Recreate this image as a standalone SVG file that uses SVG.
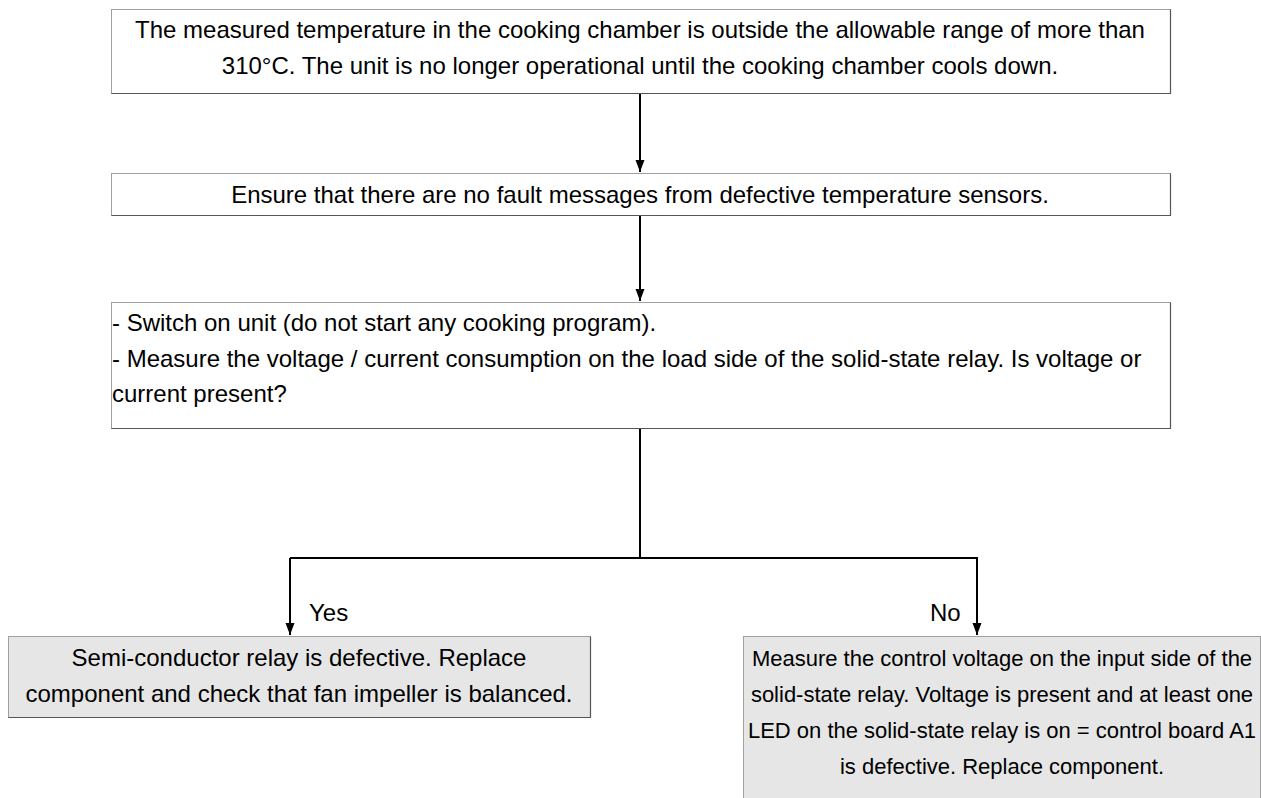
<svg xmlns="http://www.w3.org/2000/svg" width="1261" height="798" viewBox="0 0 1261 798">
<defs>
<style>
.box{fill:#ffffff;stroke:#a0a0a0;stroke-width:1}
.gbox{fill:#e6e6e6;stroke:#a0a0a0;stroke-width:1}
.sh{stroke:#555555;stroke-width:1.2;fill:none}
.t{font-family:"Liberation Sans",Arial,sans-serif;font-size:24px;fill:#000}
.s{font-size:22px}
.c{text-anchor:middle}
.ln{stroke:#000;stroke-width:2;fill:none}
</style>
<marker id="arr" markerWidth="12" markerHeight="16" refX="16" refY="6" orient="auto" markerUnits="userSpaceOnUse" viewBox="0 0 16 12">
<path d="M0,0 L16,6 L0,12 Z" fill="#000"/>
</marker>
</defs>
<g id="connectors">
<line class="ln" x1="640" y1="93" x2="640" y2="172" marker-end="url(#arr)"/>
<line class="ln" x1="640" y1="215" x2="640" y2="301" marker-end="url(#arr)"/>
<polyline class="ln" points="640,428 640,558"/>
<polyline class="ln" points="290,558 977,558 977,635" marker-end="url(#arr)"/>
<line class="ln" x1="290" y1="558" x2="290" y2="635" marker-end="url(#arr)"/>
</g>
<g id="node1">
<rect class="box" x="111.5" y="9.5" width="1059" height="84"/>
<polyline class="sh" points="111.5,93.5 1170.5,93.5 1170.5,9.5"/>
<text class="t c" x="640" y="38">The measured temperature in the cooking chamber is outside the allowable range of more than</text>
<text class="t c" x="640" y="74">310°C. The unit is no longer operational until the cooking chamber cools down.</text>
</g>
<g id="node2">
<rect class="box" x="111.5" y="173.5" width="1059" height="42"/>
<polyline class="sh" points="111.5,215.5 1170.5,215.5 1170.5,173.5"/>
<text class="t c" x="640" y="203">Ensure that there are no fault messages from defective temperature sensors.</text>
</g>
<g id="node3">
<rect class="box" x="111.5" y="302.5" width="1059" height="126"/>
<polyline class="sh" points="111.5,428.5 1170.5,428.5 1170.5,302.5"/>
<text class="t" x="112" y="331">- Switch on unit (do not start any cooking program).</text>
<text class="t" x="112" y="367">- Measure the voltage / current consumption on the load side of the solid-state relay. Is voltage or</text>
<text class="t" x="112" y="402">current present?</text>
</g>
<g id="label-yes"><text class="t" x="309" y="621">Yes</text></g>
<g id="label-no"><text class="t" x="930" y="621">No</text></g>
<g id="node-yes">
<rect class="gbox" x="8.5" y="636.5" width="582" height="81"/>
<polyline class="sh" points="8.5,717.5 590.5,717.5 590.5,636.5"/>
<text class="t c" x="299" y="666">Semi-conductor relay is defective. Replace</text>
<text class="t c" x="299" y="702">component and check that fan impeller is balanced.</text>
</g>
<g id="node-no">
<rect class="gbox" x="743.5" y="636.5" width="517" height="170"/>
<text class="t s c" x="1002" y="666">Measure the control voltage on the input side of the</text>
<text class="t s c" x="1002" y="702">solid-state relay. Voltage is present and at least one</text>
<text class="t s c" x="1002" y="738">LED on the solid-state relay is on = control board A1</text>
<text class="t s c" x="1002" y="774">is defective. Replace component.</text>
</g>
</svg>
